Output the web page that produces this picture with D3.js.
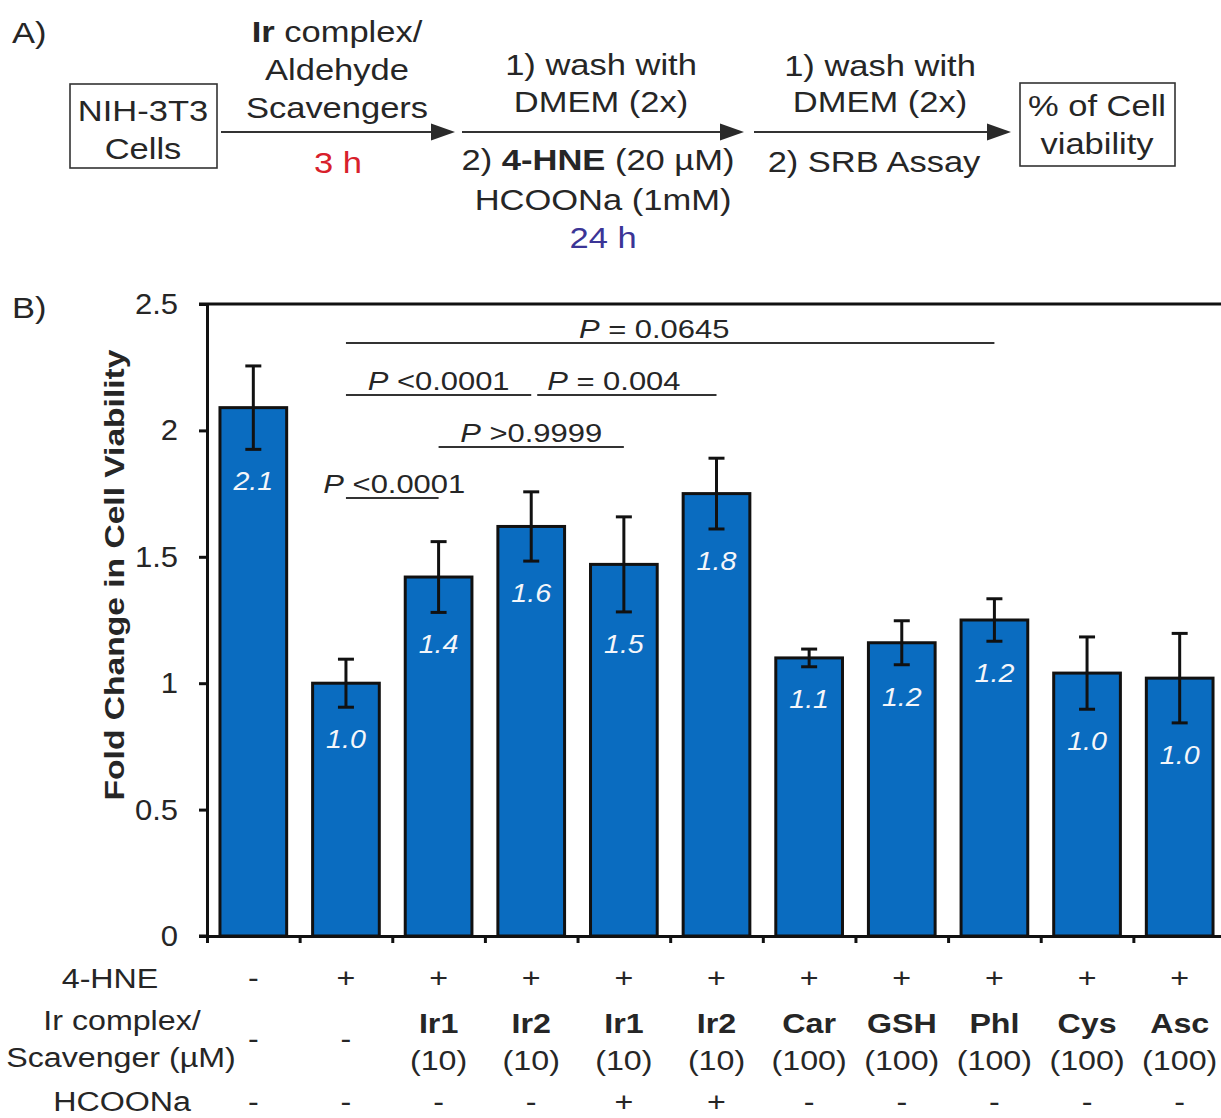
<!DOCTYPE html>
<html>
<head>
<meta charset="utf-8">
<title>4-HNE cell viability</title>
<script src="https://d3js.org/d3.v7.min.js"></script>
<style>
  body { margin: 0; background: #fff; }
  svg { display: block; font-family: "Liberation Sans", Arial, Helvetica, sans-serif; }
</style>
</head>
<body>
<svg id="fig" width="1221" height="1118"></svg>
<script>
// ---- data ----
const hneRow      = ["-", "+", "+", "+", "+", "+", "+", "+", "+", "+", "+"];
const scavNames   = ["-", "-", "Ir1", "Ir2", "Ir1", "Ir2", "Car", "GSH", "Phl", "Cys", "Asc"];
const scavConc    = ["", "", "(10)", "(10)", "(10)", "(10)", "(100)", "(100)", "(100)", "(100)", "(100)"];
const formateRow  = ["-", "-", "-", "-", "+", "+", "-", "-", "-", "-", "-"];
const meanValues  = [2.09, 1.00, 1.42, 1.62, 1.47, 1.75, 1.10, 1.16, 1.25, 1.04, 1.02];
const errValues   = [0.165, 0.095, 0.14, 0.137, 0.188, 0.14, 0.035, 0.087, 0.084, 0.143, 0.177];
const valueLabels = ["2.1", "1.0", "1.4", "1.6", "1.5", "1.8", "1.1", "1.2", "1.2", "1.0", "1.0"];
const yTicks      = [0, 0.5, 1, 1.5, 2, 2.5];
const yTickLabels = ["0", "0.5", "1", "1.5", "2", "2.5"];
// significance bars: from bar, to bar, level (fold change), p text
const sigFrom  = [1, 1, 3, 2, 1];
const sigTo    = [8, 3, 5, 4, 2];
const sigLevel = [2.346, 2.14, 2.14, 1.934, 1.733];
const sigText  = ["= 0.0645", "<0.0001", "= 0.004", ">0.9999", "<0.0001"];

const ink = "#262626";
const SX = 1.15; // the figure's type is a bit wider than Arial

const svg = d3.select("#fig");
svg.append("rect").attr("width", 1221).attr("height", 1118).attr("fill", "#fff");

// text helper: parts = [[string, "b"|"i"|""], ...]
function label(g, x, y, parts, o) {
  o = o || {};
  const t = g.append("text")
    .attr("transform", "translate(" + x + "," + y + ")" + (o.rotate ? " rotate(-90)" : "") + " scale(" + (o.sx || SX) + ",1)")
    .attr("text-anchor", o.anchor || "middle")
    .attr("fill", o.fill || ink)
    .style("font-size", (o.size || 30) + "px");
  parts.forEach(function(p) {
    t.append("tspan").text(p[0])
      .style("font-weight", p[1] == "b" ? "bold" : null)
      .style("font-style", p[1] == "i" ? "italic" : null);
  });
  return t;
}

function arrow(g, x1, x2, y) {
  g.append("line").attr("x1", x1).attr("x2", x2 - 18).attr("y1", y).attr("y2", y)
    .attr("stroke", "#333").attr("stroke-width", 2);
  g.append("path").attr("d", "M" + x2 + "," + y + "L" + (x2 - 24) + "," + (y - 8.5) + "L" + (x2 - 24) + "," + (y + 8.5) + "Z")
    .attr("fill", "#2a2a2a");
}

// ---- A) scheme ----
const sch = svg.append("g");
label(sch, 12, 43, [["A)", ""]], { anchor: "start" });
sch.append("rect").attr("x", 70).attr("y", 84).attr("width", 147).attr("height", 84)
  .attr("fill", "none").attr("stroke", "#333").attr("stroke-width", 1.6);
label(sch, 143, 121, [["NIH-3T3", ""]]);
label(sch, 143, 159, [["Cells", ""]]);
label(sch, 337, 42, [["Ir", "b"], [" complex/", ""]]);
label(sch, 337, 80, [["Aldehyde", ""]]);
label(sch, 337, 118, [["Scavengers", ""]]);
arrow(sch, 221, 455, 132);
label(sch, 338, 173, [["3 h", ""]], { fill: "#d8202b" });

label(sch, 601, 75, [["1) wash with", ""]]);
label(sch, 601, 112, [["DMEM (2x)", ""]]);
arrow(sch, 462, 744, 132);
label(sch, 598, 170, [["2) ", ""], ["4-HNE", "b"], [" (20 µM)", ""]]);
label(sch, 603, 210, [["HCOONa (1mM)", ""]]);
label(sch, 603, 248, [["24 h", ""]], { fill: "#3b3596" });

label(sch, 880, 76, [["1) wash with", ""]]);
label(sch, 880, 112, [["DMEM (2x)", ""]]);
arrow(sch, 754, 1011, 132);
label(sch, 874, 172, [["2) SRB Assay", ""]]);
sch.append("rect").attr("x", 1020).attr("y", 83).attr("width", 155).attr("height", 83)
  .attr("fill", "none").attr("stroke", "#333").attr("stroke-width", 1.6);
label(sch, 1097, 116, [["% of Cell", ""]]);
label(sch, 1097, 154, [["viability", ""]]);

// ---- B) bar chart ----
const plotLeft = 207, plotRight = 1226, plotTop = 304, plotBottom = 936;
const n = meanValues.length;
const y = d3.scaleLinear().domain([0, 2.5]).range([plotBottom, plotTop]);
const xb = d3.scaleBand().domain(d3.range(n)).range([plotLeft, plotRight]).paddingInner(0.28).paddingOuter(0.14);
const xl = d3.scaleLinear().domain([0, n]).range([plotLeft, plotRight]);
const cx = function(i) { return xb(i) + xb.bandwidth() / 2; };

label(svg, 12, 318, [["B)", ""]], { anchor: "start" });

const chart = svg.append("g");

// bars
chart.selectAll("rect.bar").data(meanValues).join("rect").attr("class", "bar")
  .attr("x", function(d, i) { return xb(i); })
  .attr("y", function(d) { return y(d); })
  .attr("width", xb.bandwidth())
  .attr("height", function(d) { return y(0) - y(d); })
  .attr("fill", "#0a6cc0").attr("stroke", "#111").attr("stroke-width", 3);

// error bars
const eb = chart.append("g").attr("stroke", "#111").attr("stroke-width", 3);
meanValues.forEach(function(m, i) {
  const e = errValues[i];
  eb.append("line").attr("x1", cx(i)).attr("x2", cx(i)).attr("y1", y(m + e)).attr("y2", y(m - e));
  eb.append("line").attr("x1", cx(i) - 8).attr("x2", cx(i) + 8).attr("y1", y(m + e)).attr("y2", y(m + e));
  eb.append("line").attr("x1", cx(i) - 8).attr("x2", cx(i) + 8).attr("y1", y(m - e)).attr("y2", y(m - e));
});

// value labels in bars
valueLabels.forEach(function(v, i) {
  label(chart, cx(i), y(meanValues[i] - errValues[i]) + 41, [[v, "i"]], { size: 26, sx: 1.1, fill: "#f4f6fa" });
});

// axes
const yAxis = chart.append("g").attr("transform", "translate(" + plotLeft + ",0)")
  .call(d3.axisLeft(y).tickValues(yTicks).tickSize(8).tickSizeOuter(0).tickFormat(""));
const xAxis = chart.append("g").attr("transform", "translate(0," + plotBottom + ")")
  .call(d3.axisBottom(xl).tickValues(d3.range(n + 1)).tickSize(7).tickSizeOuter(0).tickFormat(""));
[yAxis, xAxis].forEach(function(a) {
  a.selectAll("path, line").attr("stroke", "#111").attr("stroke-width", 3);
});
chart.append("line").attr("x1", plotLeft - 8).attr("x2", 1221).attr("y1", plotTop).attr("y2", plotTop)
  .attr("stroke", "#111").attr("stroke-width", 3);
chart.append("line").attr("x1", plotLeft - 8).attr("x2", plotLeft).attr("y1", plotBottom).attr("y2", plotBottom)
  .attr("stroke", "#111").attr("stroke-width", 3);

yTicks.forEach(function(t, i) {
  label(chart, 178, y(t) + 10, [[yTickLabels[i], ""]], { anchor: "end", size: 29, sx: 1.07 });
});
label(chart, 124, 575, [["Fold Change in Cell Viability", "b"]], { rotate: true, size: 28, sx: 1.2 });

// significance lines (labels nudged a little where the original sits off-centre)
const sigNudge = [-16, 0, -10, 0, 2];
sigText.forEach(function(s, k) {
  const x1 = cx(sigFrom[k]), x2 = cx(sigTo[k]), yy = y(sigLevel[k]);
  chart.append("line").attr("x1", x1 + (k == 2 ? 6 : 0)).attr("x2", x2).attr("y1", yy).attr("y2", yy)
    .attr("stroke", "#333").attr("stroke-width", 2);
  label(chart, (x1 + x2) / 2 + sigNudge[k], yy - 5, [["P", "i"], [" " + s, ""]], { size: 26, sx: 1.19 });
});

// treatment table under the axis
const tbl = svg.append("g");
label(tbl, 110, 988, [["4-HNE", ""]], { size: 28 });
label(tbl, 122, 1030, [["Ir complex/", ""]], { size: 28 });
label(tbl, 121, 1067, [["Scavenger (µM)", ""]], { size: 28 });
label(tbl, 122, 1111, [["HCOONa", ""]], { size: 28 });
hneRow.forEach(function(s, i) {
  label(tbl, cx(i), 987, [[s, ""]], { size: 28 });
});
scavNames.forEach(function(s, i) {
  if (s == "-") {
    label(tbl, cx(i), 1048, [[s, ""]], { size: 28 });
  } else {
    label(tbl, cx(i), 1033, [[s, "b"]], { size: 28 });
    label(tbl, cx(i), 1070, [[scavConc[i], ""]], { size: 28 });
  }
});
formateRow.forEach(function(s, i) {
  label(tbl, cx(i), 1111, [[s, ""]], { size: 28 });
});
</script>
</body>
</html>
